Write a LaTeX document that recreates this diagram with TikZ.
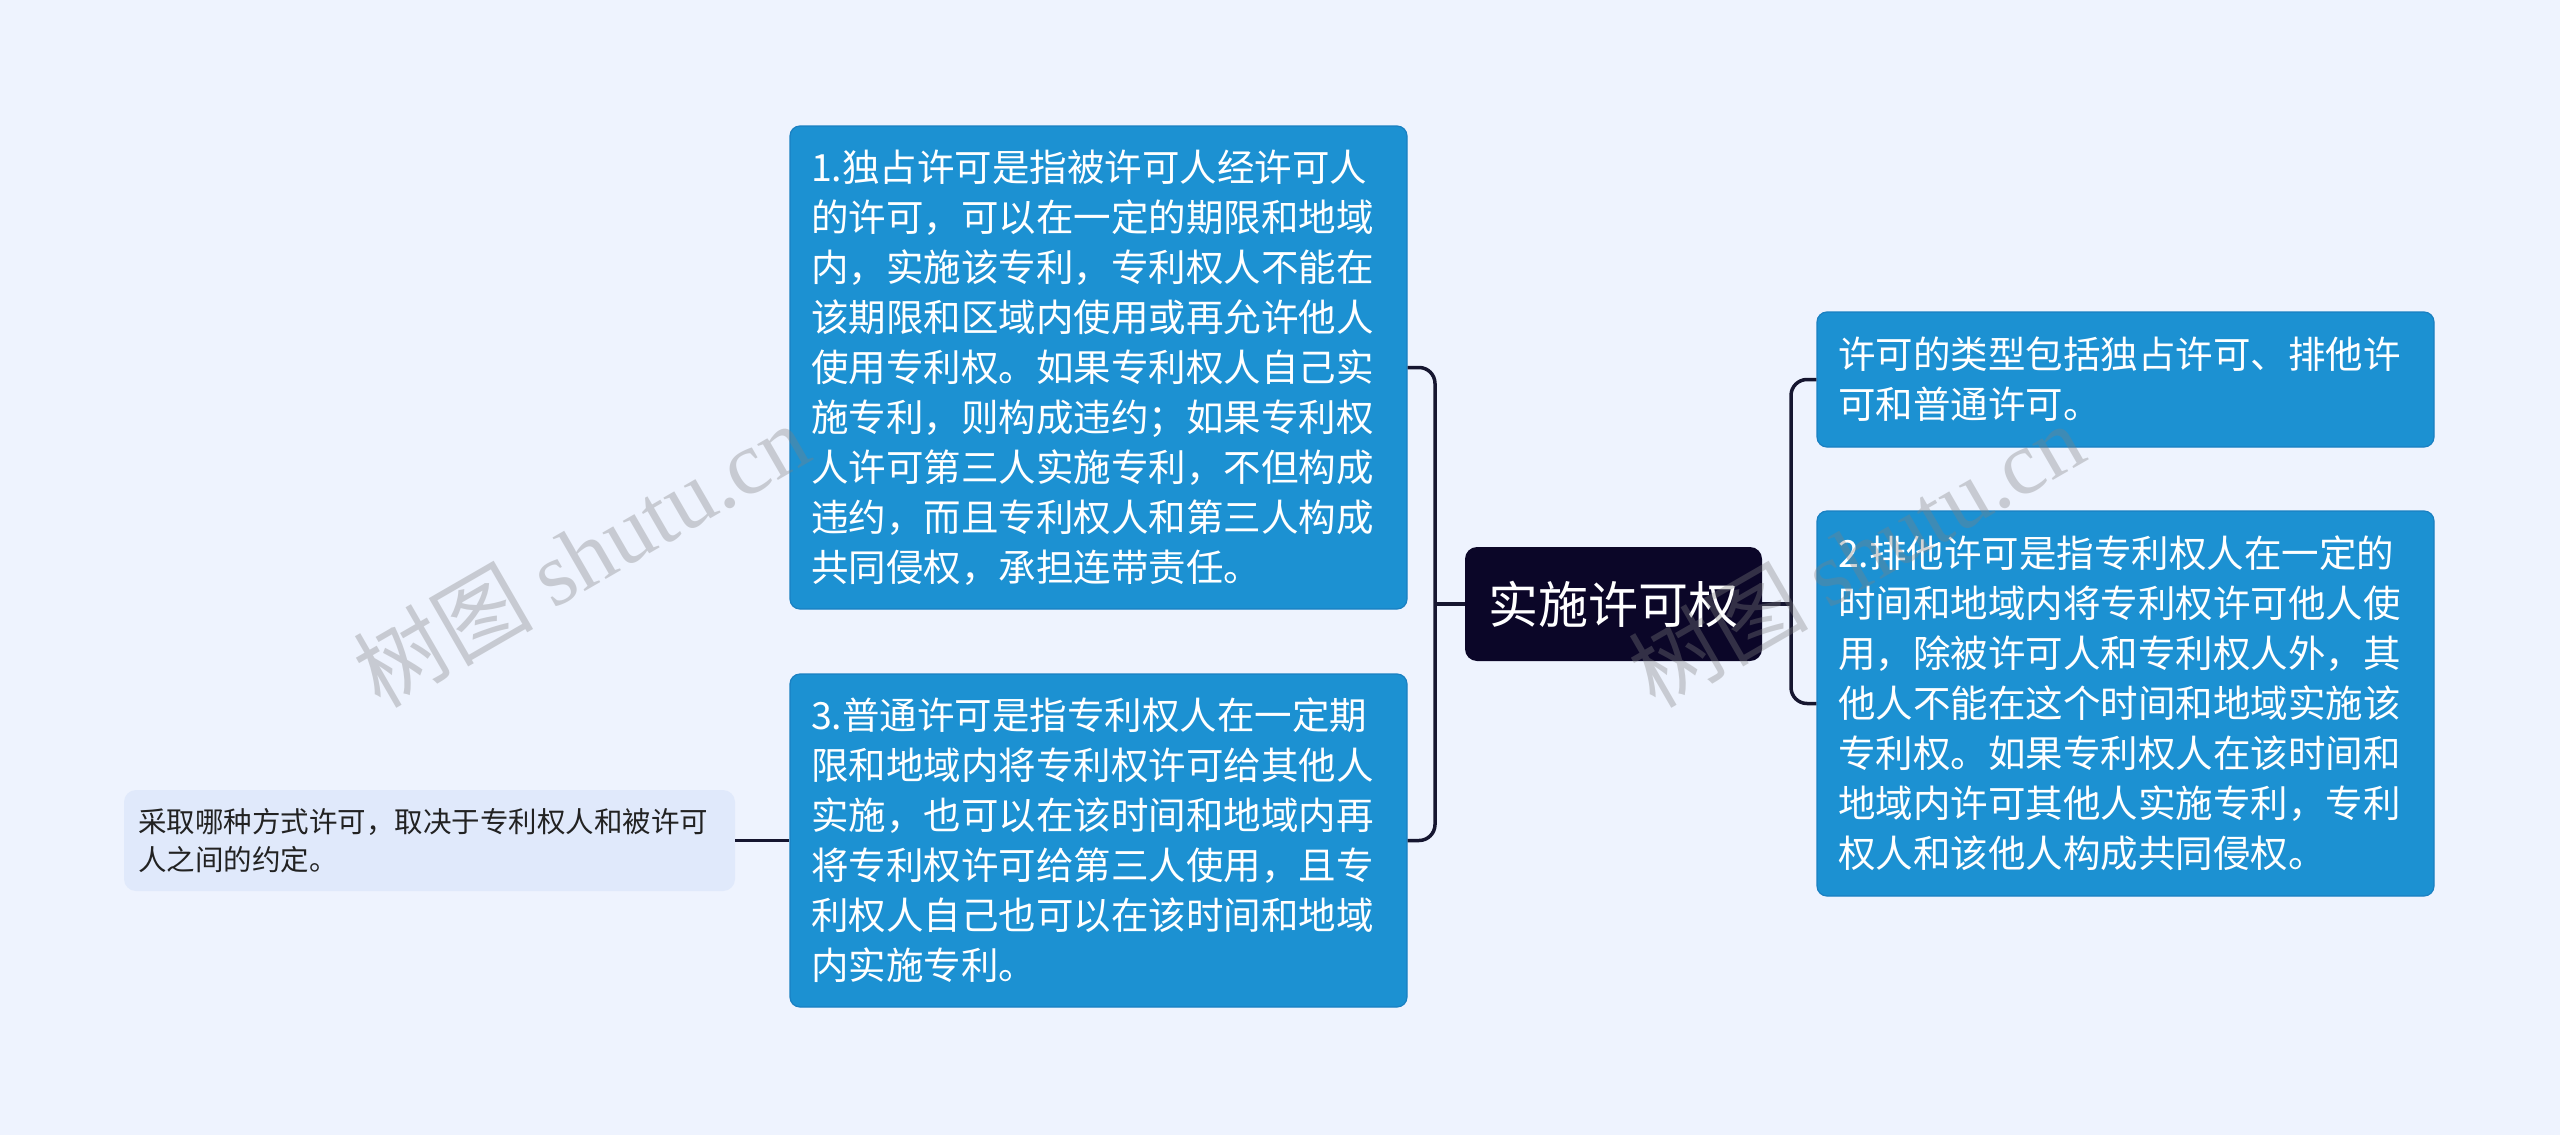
\documentclass[tikz,border=0pt]{standalone}
\usepackage{fontspec}
\setmainfont{Noto Sans CJK SC}
\newfontfamily\wmlatin{Liberation Serif}
\newfontfamily\wmcjk{Noto Sans CJK SC}
\definecolor{bgc}{HTML}{EEF3FE}
\definecolor{boxblue}{HTML}{1C91D2}
\definecolor{boxline}{HTML}{1A80C2}
\definecolor{navy}{HTML}{0B0628}
\definecolor{conn}{HTML}{161630}
\definecolor{leaffill}{HTML}{E0E9FB}
\definecolor{leaftext}{HTML}{222222}
\tikzset{
  bluebox/.style={draw=boxline, line width=1.2, fill=boxblue, rounded corners=10,
    text=white, align=left, text width=575, inner xsep=21, inner ysep=0,
    font=\fontsize{37.5}{50}\selectfont},
  rootbox/.style={fill=navy, rounded corners=12, text=white, minimum width=297,
    minimum height=114, inner sep=0, font=\fontsize{50}{60}\selectfont},
  leafbox/.style={fill=leaffill, rounded corners=12, text=leaftext, align=left,
    text width=583, inner xsep=14, inner ysep=0, minimum height=101,
    font=\fontsize{28.5}{37.5}\selectfont},
  link/.style={draw=conn, line width=3.5},
  wm/.style={text=gray, opacity=0.35, rotate=30, anchor=base west, inner sep=0}
}
\begin{document}
\begin{tikzpicture}[x=1pt,y=-1pt]
\fill[bgc] (0,0) rectangle (2560,1135);
\useasboundingbox (0,0) rectangle (2560,1135);

\node[rootbox] (root) at (1613.5,604) {实施许可权};

\node[bluebox, minimum height=483] (b1) at (1098.5,367.5) {1.独占许可是指被许可人经许可人\\的许可，可以在一定的期限和地域\\内，实施该专利，专利权人不能在\\该期限和区域内使用或再允许他人\\使用专利权。如果专利权人自己实\\施专利，则构成违约；如果专利权\\人许可第三人实施专利，不但构成\\违约，而且专利权人和第三人构成\\共同侵权，承担连带责任。};

\node[bluebox, minimum height=333] (b3) at (1098.5,840.5) {3.普通许可是指专利权人在一定期\\限和地域内将专利权许可给其他人\\实施，也可以在该时间和地域内再\\将专利权许可给第三人使用，且专\\利权人自己也可以在该时间和地域\\内实施专利。};

\node[bluebox, minimum height=135] (r1) at (2125.5,379.5) {许可的类型包括独占许可、排他许\\可和普通许可。};

\node[bluebox, minimum height=385] (r2) at (2125.5,703.5) {2.排他许可是指专利权人在一定的\\时间和地域内将专利权许可他人使\\用，除被许可人和专利权人外，其\\他人不能在这个时间和地域实施该\\专利权。如果专利权人在该时间和\\地域内许可其他人实施专利，专利\\权人和该他人构成共同侵权。};

\node[leafbox] (leaf) at (429.5,840.5) {采取哪种方式许可，取决于专利权人和被许可\\人之间的约定。};

\coordinate (L) at (1435,604);
\coordinate (R) at (1791,604);

\draw[link] (root.west) -- (L);
\draw[link, rounded corners=16] (b1.east) -| (L) |- (b3.east);
\draw[link] (root.east) -- (R);
\draw[link, rounded corners=16] (r1.west) -| (R) |- (r2.west);
\draw[link] (leaf.east) -- (b3.west |- leaf.east);

\node[wm] (wm1) at (380,710) {\fontsize{90}{90}\selectfont\wmcjk 树图\ \wmlatin shutu.cn};
\node[wm] (wm2) at (1655,710) {\fontsize{90}{90}\selectfont\wmcjk 树图\ \wmlatin shutu.cn};
\end{tikzpicture}
\end{document}
